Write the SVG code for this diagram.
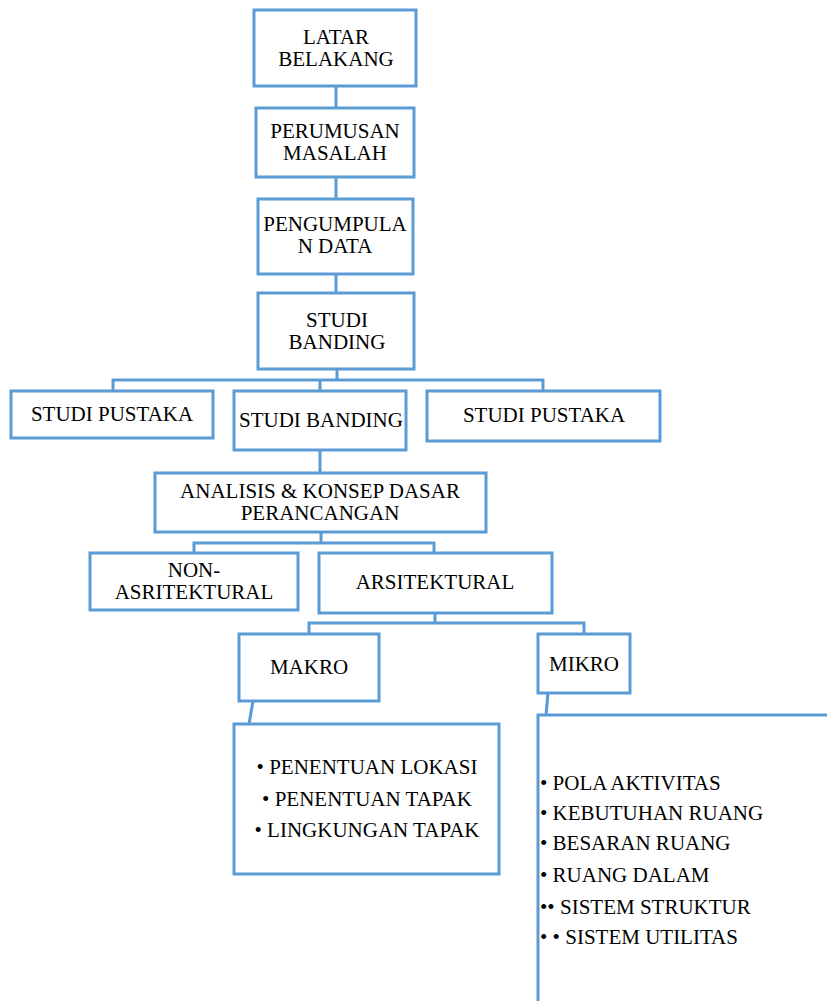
<svg xmlns="http://www.w3.org/2000/svg" width="827" height="1001" viewBox="0 0 827 1001">
<style>
.box{fill:#fff;stroke:#5B9BD5;stroke-width:3}
.ln{fill:none;stroke:#5B9BD5;stroke-width:3}
text{font-family:"Liberation Serif","Times New Roman",serif;font-size:21px;fill:#000}
.c{text-anchor:middle}
</style>
<rect width="827" height="1001" fill="#fff"/>
<g id="connectors">
<path class="ln" d="M336 86V108"/>
<path class="ln" d="M336 177V199"/>
<path class="ln" d="M336 274V293"/>
<path class="ln" d="M337 369V380M113 391V380H543V391M320 380V391"/>
<path class="ln" d="M320 450V473"/>
<path class="ln" d="M321 532V543M194 553V543H434V553"/>
<path class="ln" d="M435 613V623M309 634V623H584V634"/>
<path class="ln" d="M253 701L249 724"/>
<path class="ln" d="M548 693L546 715"/>
</g>
<g id="latar"><rect class="box" x="254" y="10" width="162" height="76"/><text class="c" x="336" y="43.5">LATAR<tspan x="336" dy="22">BELAKANG</tspan></text></g>
<g id="perumusan"><rect class="box" x="256" y="108" width="158" height="69"/><text class="c" x="335" y="137.5">PERUMUSAN<tspan x="335" dy="22">MASALAH</tspan></text></g>
<g id="pengumpulan"><rect class="box" x="258" y="199" width="155" height="75"/><text class="c" x="335" y="231">PENGUMPULA<tspan x="335" dy="22">N DATA</tspan></text></g>
<g id="studi-banding-top"><rect class="box" x="258" y="293" width="156" height="76"/><text class="c" x="337" y="327">STUDI<tspan x="337" dy="22">BANDING</tspan></text></g>
<g id="studi-pustaka-1"><rect class="box" x="11" y="391" width="202" height="47"/><text class="c" x="112" y="421">STUDI PUSTAKA</text></g>
<g id="studi-banding"><rect class="box" x="234" y="391" width="172" height="59"/><text class="c" x="321" y="427">STUDI BANDING</text></g>
<g id="studi-pustaka-2"><rect class="box" x="427" y="391" width="233" height="50"/><text class="c" x="544" y="422">STUDI PUSTAKA</text></g>
<g id="analisis"><rect class="box" x="155" y="473" width="331" height="59"/><text class="c" x="320" y="498">ANALISIS &amp; KONSEP DASAR<tspan x="320" dy="22">PERANCANGAN</tspan></text></g>
<g id="non-arsitektural"><rect class="box" x="90" y="553" width="208" height="57"/><text class="c" x="194" y="576.5">NON-<tspan x="194" dy="22">ASRITEKTURAL</tspan></text></g>
<g id="arsitektural"><rect class="box" x="319" y="553" width="233" height="60"/><text class="c" x="435" y="589">ARSITEKTURAL</text></g>
<g id="makro"><rect class="box" x="239" y="634" width="140" height="67"/><text class="c" x="309" y="674">MAKRO</text></g>
<g id="mikro"><rect class="box" x="538" y="634" width="92" height="59"/><text class="c" x="584" y="671">MIKRO</text></g>
<g id="makro-list"><rect class="box" x="234" y="724" width="265" height="150"/><text class="c" x="367" y="774">• PENENTUAN LOKASI</text><text class="c" x="367" y="806">• PENENTUAN TAPAK</text><text class="c" x="367" y="837">• LINGKUNGAN TAPAK</text></g>
<g id="mikro-list"><rect class="box" x="538" y="715" width="300" height="300"/>
<text x="540" y="790">• POLA AKTIVITAS</text>
<text x="540" y="820">• KEBUTUHAN RUANG</text>
<text x="540" y="850">• BESARAN RUANG</text>
<text x="540" y="882">• RUANG DALAM</text>
<text x="540" y="914">•• SISTEM STRUKTUR</text>
<text x="540" y="944">• • SISTEM UTILITAS</text>
</g>
</svg>
